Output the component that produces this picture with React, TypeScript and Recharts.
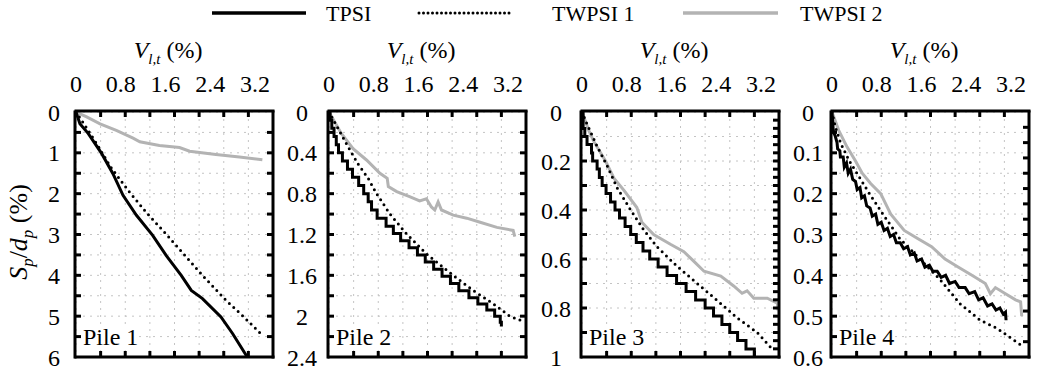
import React from "react";
import { LineChart, Line, XAxis, YAxis, CartesianGrid } from "recharts";

const FONT = "'Liberation Serif', 'Times New Roman', serif";

// x axis (V_l,t %) – labelled ticks, plot runs a little past 3.2
const X_MAX = 3.52;
const xTicks = [0, 0.8, 1.6, 2.4, 3.2];

// y axis (Sp/dp %) labels per pile
const yTicks1 = [0, 1, 2, 3, 4, 5, 6];
const yTicks2 = [0, 0.4, 0.8, 1.2, 1.6, 2, 2.4];
const yTicks3 = [0, 0.2, 0.4, 0.6, 0.8, 1];
const yTicks4 = [0, 0.1, 0.2, 0.3, 0.4, 0.5, 0.6];

// [V_l,t, Sp/dp]
const pile1TPSI = [
  [0, 0], [0.07, 0.29], [0.22, 0.53], [0.46, 1.02], [0.66, 1.51], [0.84, 2.04],
  [1.08, 2.53], [1.37, 3.02], [1.61, 3.51], [1.88, 4.0], [2.06, 4.37],
  [2.26, 4.57], [2.59, 5.02], [2.8, 5.43], [3.06, 6.0],
];
const pile1TWPSI1 = [
  [0, 0], [0.16, 0.33], [0.37, 0.78], [0.62, 1.35], [0.95, 1.95], [1.25, 2.45],
  [1.63, 3.02], [1.97, 3.55], [2.26, 4.0], [2.68, 4.61], [3.0, 5.02], [3.33, 5.47],
];
const pile1TWPSI2 = [
  [0, 0], [0.19, 0.12], [0.43, 0.29], [0.72, 0.45], [1.02, 0.64], [1.14, 0.73],
  [1.49, 0.82], [1.85, 0.87], [2.03, 0.96], [2.5, 1.04], [2.92, 1.1], [3.33, 1.17],
];

const pile2TPSI = [
  [0, 0], [0.02, 0.08], [0.05, 0.16], [0.09, 0.24], [0.13, 0.32], [0.17, 0.4],
  [0.24, 0.48], [0.33, 0.56], [0.42, 0.64], [0.53, 0.72], [0.62, 0.8], [0.7, 0.88],
  [0.76, 0.96], [0.86, 1.04], [1.02, 1.12], [1.15, 1.19], [1.28, 1.26], [1.43, 1.33],
  [1.58, 1.4], [1.72, 1.47], [1.87, 1.54], [2.02, 1.61], [2.17, 1.68], [2.32, 1.75],
  [2.5, 1.82], [2.66, 1.88], [2.82, 1.94], [2.96, 2.0], [3.06, 2.06], [3.08, 2.1],
];
const pile2TWPSI1 = [
  [0, 0], [0.16, 0.16], [0.34, 0.34], [0.52, 0.51], [0.7, 0.65], [0.85, 0.8],
  [1.09, 1.0], [1.38, 1.19], [1.74, 1.39], [2.22, 1.6], [2.58, 1.75], [2.94, 1.88],
  [3.23, 2.0], [3.42, 2.04],
];
const pile2TWPSI2 = [
  [0, 0], [0.22, 0.21], [0.43, 0.36], [0.67, 0.47], [0.91, 0.6], [1.04, 0.65],
  [1.06, 0.73], [1.21, 0.78], [1.44, 0.83], [1.62, 0.87], [1.74, 0.85], [1.83, 0.93],
  [1.89, 0.96], [1.95, 0.88], [2.01, 0.96], [2.22, 1.01], [2.46, 1.04], [2.7, 1.08],
  [3.0, 1.13], [3.29, 1.16], [3.32, 1.22],
];

const pile3TPSI = [
  [0, 0], [0.02, 0.067], [0.05, 0.1], [0.09, 0.133], [0.17, 0.167], [0.19, 0.2],
  [0.27, 0.233], [0.31, 0.267], [0.36, 0.3], [0.43, 0.333], [0.51, 0.367], [0.59, 0.4],
  [0.67, 0.433], [0.77, 0.467], [0.87, 0.5], [0.97, 0.533], [1.09, 0.567], [1.21, 0.6],
  [1.36, 0.633], [1.52, 0.667], [1.69, 0.7], [1.86, 0.733], [2.03, 0.767], [2.2, 0.8],
  [2.35, 0.833], [2.5, 0.867], [2.64, 0.9], [2.78, 0.933], [2.93, 0.967], [3.08, 1.0],
];
const pile3TWPSI1 = [
  [0, 0], [0.09, 0.05], [0.27, 0.14], [0.45, 0.22], [0.63, 0.31], [0.87, 0.4],
  [1.1, 0.48], [1.34, 0.55], [1.7, 0.63], [2.06, 0.7], [2.42, 0.77], [2.77, 0.84],
  [3.13, 0.9], [3.37, 0.96],
];
const pile3TWPSI2 = [
  [0, 0], [0.12, 0.075], [0.21, 0.12], [0.42, 0.2], [0.57, 0.27], [0.75, 0.32],
  [0.98, 0.39], [1.07, 0.45], [1.28, 0.5], [1.58, 0.54], [1.82, 0.57], [2.0, 0.61],
  [2.18, 0.65], [2.48, 0.67], [2.71, 0.71], [2.86, 0.74], [2.95, 0.73], [3.07, 0.76],
  [3.31, 0.76], [3.49, 0.78], [3.5, 0.81],
];

const pile4TPSI = [
  [0, 0], [0.02, 0.04], [0.03, 0.05], [0.06, 0.06], [0.09, 0.075], [0.1, 0.09],
  [0.14, 0.095], [0.15, 0.11], [0.2, 0.11], [0.22, 0.135], [0.26, 0.125], [0.29, 0.15],
  [0.33, 0.14], [0.37, 0.165], [0.42, 0.17], [0.45, 0.19], [0.5, 0.185], [0.53, 0.21],
  [0.58, 0.205], [0.62, 0.23], [0.68, 0.235], [0.72, 0.255], [0.78, 0.25], [0.82, 0.275],
  [0.88, 0.27], [0.93, 0.29], [0.99, 0.285], [1.04, 0.305], [1.1, 0.3], [1.15, 0.32],
  [1.22, 0.32], [1.28, 0.335], [1.35, 0.33], [1.4, 0.35], [1.47, 0.345], [1.52, 0.365],
  [1.6, 0.36], [1.66, 0.38], [1.74, 0.375], [1.8, 0.39], [1.88, 0.39], [1.95, 0.405],
  [2.03, 0.4], [2.1, 0.42], [2.2, 0.415], [2.27, 0.43], [2.38, 0.43], [2.45, 0.445],
  [2.55, 0.44], [2.62, 0.46], [2.7, 0.455], [2.78, 0.475], [2.86, 0.47], [2.93, 0.485],
  [3.0, 0.48], [3.06, 0.495], [3.1, 0.49], [3.11, 0.51],
];
const pile4TWPSI1 = [
  [0, 0], [0.06, 0.037], [0.16, 0.078], [0.31, 0.12], [0.49, 0.16], [0.67, 0.2],
  [0.91, 0.25], [1.21, 0.31], [1.57, 0.36], [1.93, 0.41], [2.29, 0.47], [2.65, 0.51],
  [2.95, 0.53], [3.37, 0.57],
];
const pile4TWPSI2 = [
  [0, 0], [0.12, 0.045], [0.27, 0.086], [0.42, 0.12], [0.54, 0.15], [0.69, 0.175],
  [0.87, 0.2], [1.05, 0.25], [1.29, 0.29], [1.53, 0.31], [1.78, 0.33], [2.02, 0.36],
  [2.26, 0.38], [2.5, 0.4], [2.74, 0.42], [2.83, 0.445], [2.92, 0.43], [3.1, 0.445],
  [3.28, 0.46], [3.37, 0.465], [3.39, 0.5],
];

const pts = (a: number[][]) => a.map(([x, y]) => ({ x, y }));
// inner tick marks on the frame (built once so the axes get stable props)
const marks = (max: number, n: number) =>
  Array.from({ length: n - 1 }, (_, i) => (max * (i + 1)) / n);
const xMarks = marks(X_MAX, 8);

const panels = [
  { name: "Pile 1", left: 76, yMax: 6, yTicks: yTicks1, lm: marks(6, 12), rm: marks(6, 12), gap: 23, tpsi: pts(pile1TPSI), w1: pts(pile1TWPSI1), w2: pts(pile1TWPSI2), stepped: false },
  { name: "Pile 2", left: 329, yMax: 2.4, yTicks: yTicks2, lm: marks(2.4, 12), rm: marks(2.4, 12), gap: 28, tpsi: pts(pile2TPSI), w1: pts(pile2TWPSI1), w2: pts(pile2TWPSI2), stepped: true },
  { name: "Pile 3", left: 582, yMax: 1, yTicks: yTicks3, lm: marks(1, 10), rm: marks(1, 30), gap: 27, tpsi: pts(pile3TPSI), w1: pts(pile3TWPSI1), w2: pts(pile3TWPSI2), stepped: true },
  { name: "Pile 4", left: 832, yMax: 0.6, yTicks: yTicks4, lm: marks(0.6, 12), rm: marks(0.6, 16), gap: 25, tpsi: pts(pile4TPSI), w1: pts(pile4TWPSI1), w2: pts(pile4TWPSI2), stepped: false },
].map((p) => ({ ...p, dom: [0, p.yMax] as [number, number] }));

const X_DOM: [number, number] = [0, X_MAX];
const PLOT_W = 197;
const TOP = 30;
const frame = { stroke: "#000", strokeWidth: 3, strokeLinecap: "square" as const };
const tickMark = { stroke: "#000", strokeWidth: 3 };
const tickFont = { fontSize: 24, fill: "#000", fontFamily: FONT };
const yTickFont = { ...tickFont, textAnchor: "middle" };
// frame axes: marks only, no label; negative tick size points the marks into the plot
const noLabel = () => <g />;
const IN = -6;

function Panel({ p }: { p: (typeof panels)[number] }) {
  // every axis shares the same domain; series are spread over them so each axis has data
  return (
    <div style={{ position: "absolute", left: p.left - 70, top: TOP }}>
      <LineChart width={70 + PLOT_W + 21} height={343} margin={{ top: 80, right: 20, bottom: 15, left: 68 }}>
        <CartesianGrid xAxisId="xt" yAxisId="yl" stroke="#c4c4c4" strokeDasharray="2 5" />
        <XAxis xAxisId="xt" type="number" dataKey="x" orientation="top" domain={X_DOM} ticks={xMarks}
          interval={0} height={1} tick={noLabel} tickSize={IN} axisLine={frame} tickLine={tickMark} allowDataOverflow />
        <XAxis xAxisId="xb" type="number" dataKey="x" orientation="bottom" domain={X_DOM} ticks={xMarks}
          interval={0} height={1} tick={noLabel} tickSize={IN} axisLine={frame} tickLine={tickMark} allowDataOverflow />
        <YAxis yAxisId="yl" type="number" orientation="left" reversed domain={p.dom} ticks={p.lm}
          interval={0} width={1} tick={noLabel} tickSize={IN} axisLine={frame} tickLine={tickMark} allowDataOverflow />
        <YAxis yAxisId="yr" type="number" orientation="right" reversed domain={p.dom} ticks={p.rm}
          interval={0} width={1} tick={noLabel} tickSize={IN} axisLine={frame} tickLine={tickMark} allowDataOverflow />
        <XAxis xAxisId="x" type="number" dataKey="x" orientation="top" domain={X_DOM} ticks={xTicks}
          interval={0} height={1} axisLine={false} tickLine={false} tickSize={0} tickMargin={20}
          tick={tickFont} allowDataOverflow />
        <YAxis yAxisId="y" type="number" reversed domain={p.dom} ticks={p.yTicks} interval={0} width={1}
          axisLine={false} tickLine={false} tickSize={0} tickMargin={p.gap - 1} tick={yTickFont} allowDataOverflow />
        <Line xAxisId="xt" yAxisId="yl" data={p.w2} dataKey="y" type="linear" stroke="#b3b3b3"
          strokeWidth={3} dot={false} isAnimationActive={false} />
        <Line xAxisId="xb" yAxisId="yr" data={p.w1} dataKey="y" type="linear" stroke="#000"
          strokeWidth={3} strokeDasharray="0 6" strokeLinecap="round" dot={false} isAnimationActive={false} />
        <Line xAxisId="x" yAxisId="y" data={p.tpsi} dataKey="y" type={p.stepped ? "stepAfter" : "linear"}
          stroke="#000" strokeWidth={3} dot={false} isAnimationActive={false} />
      </LineChart>
    </div>
  );
}

export default function App() {
  return (
    <div style={{ position: "absolute", left: 0, top: 0, width: 1048, height: 373, background: "#fff", fontFamily: FONT }}>
      {panels.map((p) => (
        <Panel key={p.name} p={p} />
      ))}
      <svg width={1048} height={373} style={{ position: "absolute", left: 0, top: 0, pointerEvents: "none", fontFamily: FONT }}>
        {/* legend */}
        <line x1={212} x2={306} y1={13} y2={13} stroke="#000" strokeWidth={3.5} />
        <text x={326} y={21} fontSize={22}>TPSI</text>
        <line x1={419} x2={510} y1={13} y2={13} stroke="#000" strokeWidth={3} strokeDasharray="0 4.5" strokeLinecap="round" />
        <text x={552} y={21} fontSize={22}>TWPSI 1</text>
        <line x1={683} x2={778} y1={13} y2={13} stroke="#b3b3b3" strokeWidth={3.5} />
        <text x={800} y={21} fontSize={22}>TWPSI 2</text>

        {/* y axis title */}
        <text transform="translate(27,232) rotate(-90)" textAnchor="middle" fontSize={26}>
          <tspan fontStyle="italic">S</tspan>
          <tspan fontStyle="italic" fontSize={17} dy={6}>p</tspan>
          <tspan dy={-6}>/</tspan>
          <tspan fontStyle="italic">d</tspan>
          <tspan fontStyle="italic" fontSize={17} dy={6}>p</tspan>
          <tspan dy={-6}> (%)</tspan>
        </text>

        {panels.map((p) => (
          <g key={p.name}>
            <text x={p.left + 92} y={58} textAnchor="middle" fontSize={24}>
              <tspan fontStyle="italic">V</tspan>
              <tspan fontStyle="italic" fontSize={15} dy={6}>l,t</tspan>
              <tspan dy={-6}> (%)</tspan>
            </text>
            <rect x={p.left + 6} y={326} width={57} height={24} fill="#fff" />
            <text x={p.left + 7} y={345} fontSize={24}>{p.name}</text>
          </g>
        ))}
      </svg>
    </div>
  );
}
